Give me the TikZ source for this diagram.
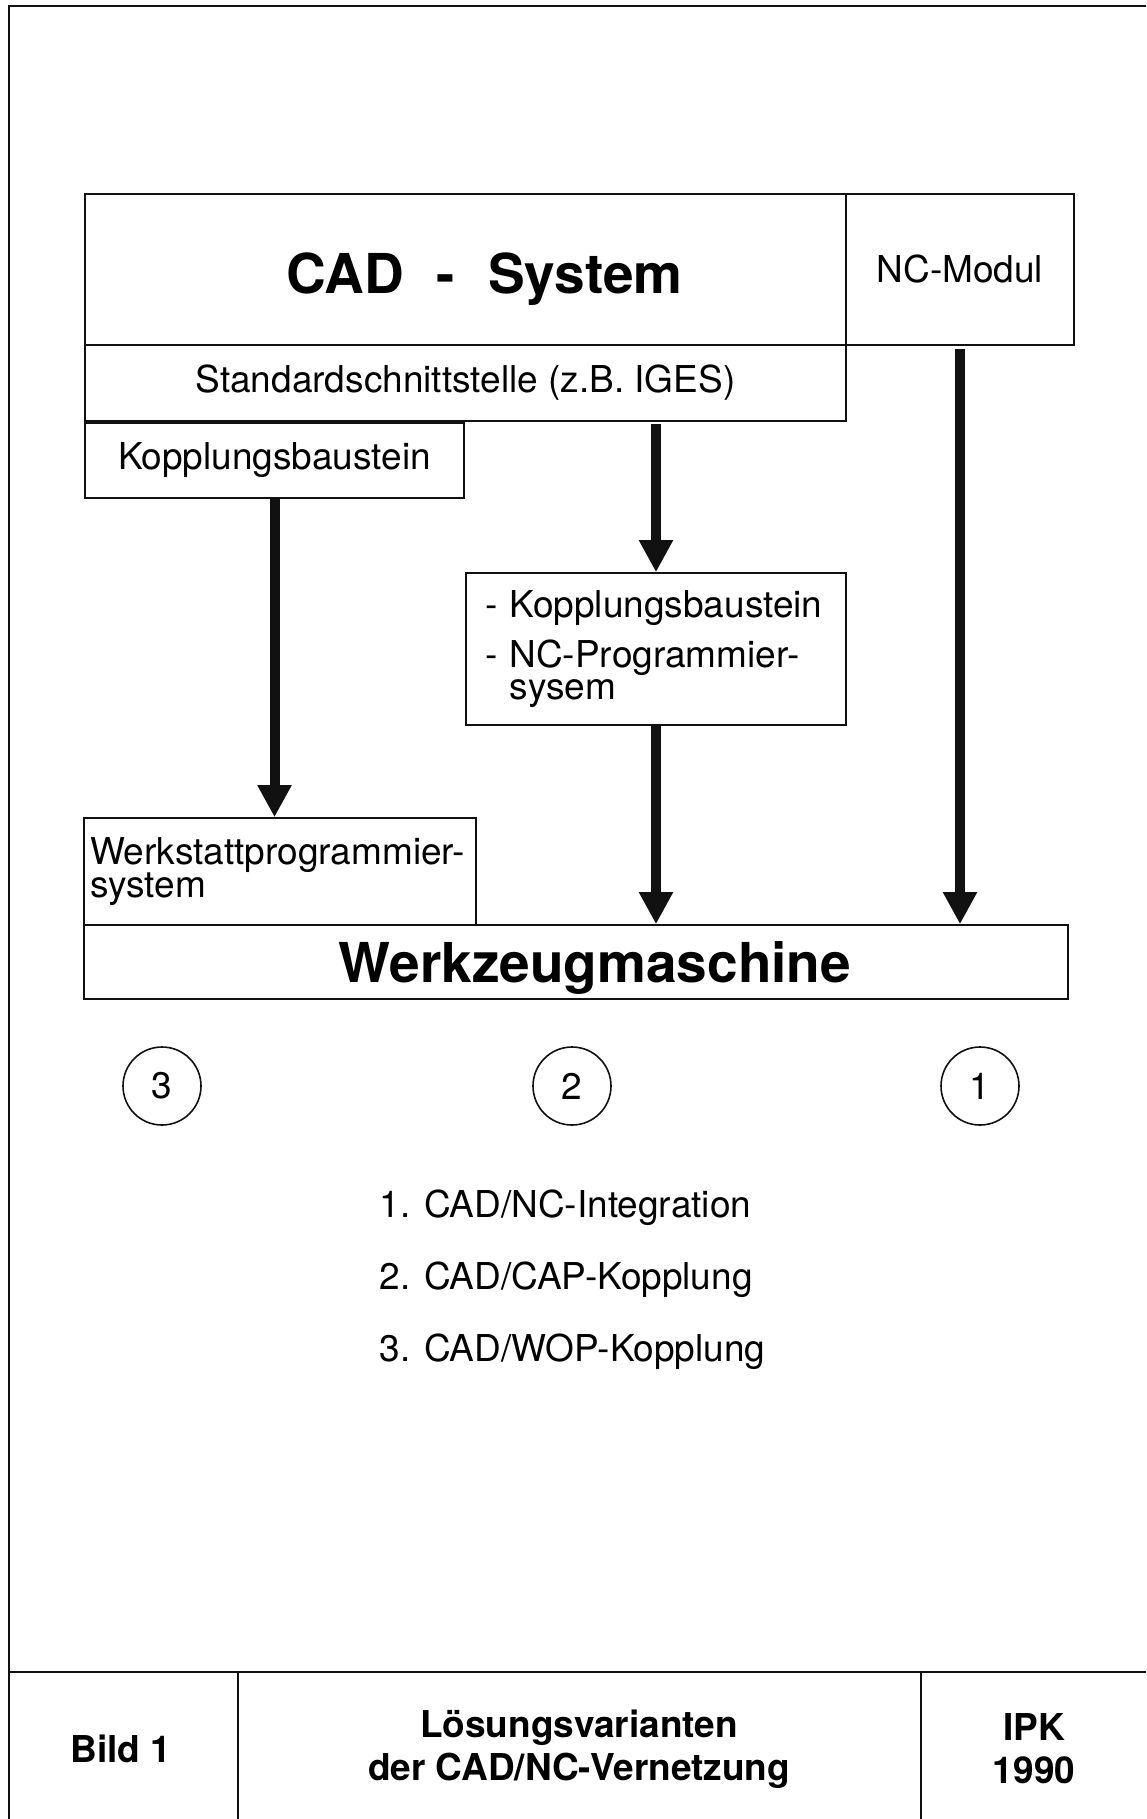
\documentclass[tikz,border=0pt]{standalone}
\usepackage{fontspec}
\setmainfont{TeX Gyre Heros}
\usetikzlibrary{arrows.meta}
\definecolor{cink}{HTML}{111111}

\tikzset{
  box/.style={rectangle, draw=cink, inner sep=0pt, font=\fontsize{37}{32}\selectfont},
  bigbox/.style={box, text depth=0pt, font=\fontsize{55}{60}\selectfont\bfseries},
  flow/.style={draw=cink, line width=10pt, -{Triangle[width=32pt, length=32pt]}},
  num/.style={circle, draw=cink, minimum size=78pt, inner sep=0pt, font=\fontsize{37}{40}\selectfont},
  item/.style={anchor=base west, inner sep=0pt, font=\fontsize{37}{40}\selectfont},
  foot/.style={align=center, inner sep=0pt, font=\fontsize{37}{43}\selectfont\bfseries}
}

\begin{document}
\begin{tikzpicture}[x=1pt, y=-1pt, line width=1.6pt]
    \useasboundingbox (0,0) rectangle (1146,1819);
    % frame and footer
    \draw[cink] (9,1819) -- (9,6) -- (1146,6);
    \draw[cink] (9,1672) -- (1146,1672);
    \draw[cink] (238,1672) -- (238,1819);
    \draw[cink] (921,1672) -- (921,1819);
    % boxes
    \node (cad) [bigbox, text height=48pt, minimum width=761pt, minimum height=151pt] at (465.5,269.5)
        {\hspace*{38pt}CAD\hspace{0.6em}-\hspace{0.6em}System};
    \node (ncm) [box, minimum width=228pt, minimum height=151pt] at (960,269.5) {NC-Modul};
    \node (std) [box, minimum width=761pt, minimum height=76pt] at (465.5,383) {Standardschnittstelle (z.B. IGES)};
    \node (kop) [box, minimum width=379pt, minimum height=75pt] at (274.5,460.5) {Kopplungsbaustein};
    \node (ncp) [box, minimum width=380pt, minimum height=152pt, text width=342pt, align=left] at (656,649)
        {- Kopplungsbaustein\\[14pt]- NC-Programmier-\\\hphantom{- }sysem};
    \node (wop) [box, minimum width=392pt, minimum height=107pt, text width=380pt, align=left] at (280,871.5)
        {Werkstattprogrammier-\\system};
    \node (wzm) [bigbox, text height=40pt, minimum width=984pt, minimum height=74pt] at (576,962)
        {\hspace*{38pt}Werkzeugmaschine};
    % connectors
    \draw[flow] (kop.south) -- (kop.south |- wop.north);
    \draw[flow, shorten <=2pt] (ncp.north |- std.south) -- (ncp.north);
    \draw[flow] (ncp.south) -- (ncp.south |- wzm.north);
    \draw[flow, shorten <=3pt] (ncm.south) -- (ncm.south |- wzm.north);
    % variants
    \foreach \n/\x in {3/162, 2/572, 1/980}
        \node (v\n) [num] at (\x,1086) {\n};
    \node (l1) [item] at (379,1217) {1. CAD/NC-Integration};
    \node (l2) [item] at (379,1289) {2. CAD/CAP-Kopplung};
    \node (l3) [item] at (379,1361) {3. CAD/WOP-Kopplung};
    % footer texts
    \node (bild) [foot] at (121,1749) {Bild 1};
    \node (titel) [foot] at (579,1749) {Lösungsvarianten\\der CAD/NC-Vernetzung};
    \node (ipk) [foot] at (1034,1749) {IPK\\1990};
\end{tikzpicture}
\end{document}
